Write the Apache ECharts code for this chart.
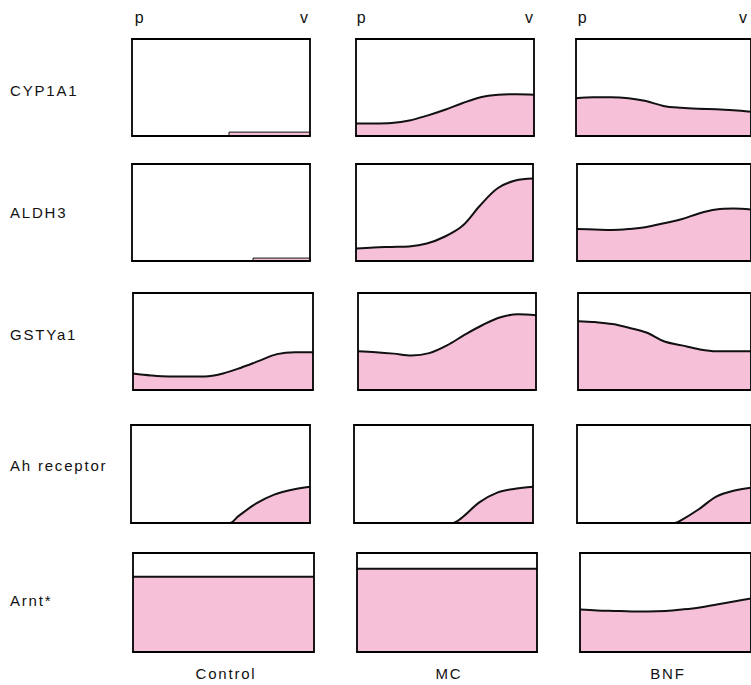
<!DOCTYPE html>
<html><head><meta charset="utf-8">
<script src="https://cdn.jsdelivr.net/npm/echarts@6/dist/echarts.min.js"></script>
<style>html,body{margin:0;padding:0;background:#fff}#c{width:751px;height:685px}
#c svg text{letter-spacing:1.8px}</style>
</head><body><div id="c"></div>
<script>
// ---- data ----
const rowLabels = ['CYP1A1', 'ALDH3', 'GSTYa1', 'Ah receptor', 'Arnt*'];
const colLabels = ['Control', 'MC', 'BNF'];
const endLabels = ['p', 'v'];
const xs = [0, 1, 2, 3, 4, 5, 6, 7, 8, 9, 10];

// CYP1A1
const cyp_control_x = [0, 5.45, 5.45, 10];
const cyp_control_y = [0, 0, 4, 4];
const cyp_mc = [13, 13, 13.5, 16, 21, 27, 34, 40, 42.5, 43, 42.5];
const cyp_bnf = [39, 40, 40, 39, 36, 31, 29, 28, 27.5, 26.5, 25];
// ALDH3
const aldh_control_x = [0, 6.8, 6.8, 10];
const aldh_control_y = [0, 0, 3, 3];
const aldh_mc = [13, 14, 14.5, 15, 18, 25, 36, 57, 75, 83, 85];
const aldh_bnf = [33, 32.5, 32, 33, 35, 39, 43, 49, 53, 54, 53];
// GSTYa1
const gst_control = [17, 15, 14, 14, 14, 17, 23, 30, 37, 39, 39];
const gst_mc = [40, 39, 37.5, 35.5, 38, 46, 57, 67, 75, 78, 77];
const gst_bnf = [71, 70, 68, 64, 59, 50, 46, 42, 40, 40, 40];
// Ah receptor
const ah_x = [0, 5.5, 6, 7, 8, 9, 10];
const ah_control = [0, 0, 7, 20, 29, 34, 37];
const ah_mc = [0, 0, 5, 21, 31, 35, 37];
const ah_bnf_x = [0, 5.6, 6, 7, 8, 9, 10];
const ah_bnf = [0, 0, 3, 14, 27, 33, 36];
// Arnt*
const arnt_control = [76, 76, 76, 76, 76, 76, 76, 76, 76, 76, 76];
const arnt_mc = [84, 84, 84, 84, 84, 84, 84, 84, 84, 84, 84];
const arnt_bnf = [43, 42, 41.5, 41, 41, 41.5, 43, 45, 48, 51, 54];

function pairs(x, y) { return x.map((v, i) => [v, y[i]]); }

const panels = [
  [{d: pairs(cyp_control_x, cyp_control_y), s: false}, {d: pairs(xs, cyp_mc), s: true}, {d: pairs(xs, cyp_bnf), s: true}],
  [{d: pairs(aldh_control_x, aldh_control_y), s: false}, {d: pairs(xs, aldh_mc), s: true}, {d: pairs(xs, aldh_bnf), s: true}],
  [{d: pairs(xs, gst_control), s: true}, {d: pairs(xs, gst_mc), s: true}, {d: pairs(xs, gst_bnf), s: true}],
  [{d: pairs(ah_x, ah_control), s: true}, {d: pairs(ah_x, ah_mc), s: true}, {d: pairs(ah_bnf_x, ah_bnf), s: true}],
  [{d: pairs(xs, arnt_control), s: false}, {d: pairs(xs, arnt_mc), s: false}, {d: pairs(xs, arnt_bnf), s: true}]
];

// ---- layout ----
const boxes = [
  [[132, 39, 178, 97], [356, 39, 178, 97], [576, 39, 180, 97]],
  [[132, 164, 178, 97], [356, 164, 177, 97], [577, 164, 180, 97]],
  [[133, 293, 180, 97], [358, 293, 178, 97], [578, 293, 180, 97]],
  [[131, 425, 179, 98], [354, 425, 179, 98], [577, 425, 180, 98]],
  [[133, 553, 181, 99], [357, 553, 180, 99], [580, 553, 180, 99]]
];
const rowLabelY = [90, 212, 334, 465, 600];
const pLabelX = [[140, 305], [362, 530], [583, 744]];
const colLabelX = [226, 449, 668];

const FONT = 'Liberation Sans, Arial, sans-serif';
const PINK = '#f6c0d8';
const grid = [], xAxis = [], yAxis = [], series = [];
const axLine = {show: true, onZero: false, lineStyle: {color: '#000', width: 1.8}};
let gi = 0;
for (let r = 0; r < 5; r++) {
  for (let c = 0; c < 3; c++) {
    const b = boxes[r][c];
    grid.push({left: b[0], top: b[1], width: b[2], height: b[3], containLabel: false});
    ['bottom', 'top'].forEach(pos => xAxis.push({
      type: 'value', gridIndex: gi, min: 0, max: 10, position: pos, z: 5,
      axisLine: axLine, axisTick: {show: false}, axisLabel: {show: false}, splitLine: {show: false}
    }));
    ['left', 'right'].forEach(pos => yAxis.push({
      type: 'value', gridIndex: gi, min: 0, max: 100, position: pos, z: 5,
      axisLine: axLine, axisTick: {show: false}, axisLabel: {show: false}, splitLine: {show: false}
    }));
    const p = panels[r][c];
    series.push({
      type: 'line', xAxisIndex: gi * 2, yAxisIndex: gi * 2, data: p.d,
      smooth: p.s ? 0.35 : false, showSymbol: false, silent: true,
      lineStyle: {color: '#111', width: (r < 2 && c === 0) ? 1 : 2},
      areaStyle: {color: PINK, opacity: 1}, clip: true
    });
    gi++;
  }
}

const graphic = [];
rowLabels.forEach((t, i) => graphic.push({type: 'text', x: 10, y: rowLabelY[i],
  style: {text: t, font: '15px ' + FONT, fill: '#111', align: 'left', verticalAlign: 'middle'}}));
pLabelX.forEach(pr => pr.forEach((x, j) => graphic.push({type: 'text', x: x, y: 17,
  style: {text: endLabels[j], font: '16px ' + FONT, fill: '#111', align: 'center', verticalAlign: 'middle'}})));
colLabels.forEach((t, i) => graphic.push({type: 'text', x: colLabelX[i], y: 673,
  style: {text: t, font: '15px ' + FONT, fill: '#111', align: 'center', verticalAlign: 'middle'}}));

const chart = echarts.init(document.getElementById('c'), null, {renderer: 'svg'});
chart.setOption({animation: false, backgroundColor: '#fff', grid, xAxis, yAxis, series, graphic});
</script></body></html>
